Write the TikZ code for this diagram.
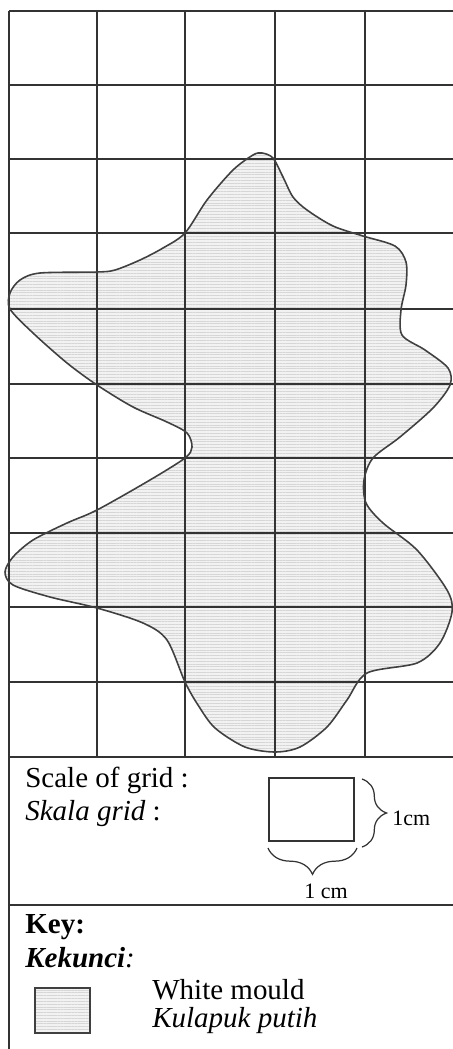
\documentclass[tikz,border=0pt]{standalone}
\usepackage{fontspec}
\setmainfont{Liberation Serif}
\usetikzlibrary{decorations.pathreplacing,patterns.meta}
\begin{document}
\begin{tikzpicture}[x=0.02cm,y=-0.02cm,
  gridline/.style={draw=black!80, line width=0.75pt},
  blobline/.style={draw=black!75, line width=0.9pt},
  mould/.style={fill=black!5},
  mouldtex/.style={pattern={Lines[angle=0, distance=1.6pt, line width=0.35pt]}, pattern color=black!16},
  lbl/.style={anchor=base west, inner sep=0pt, font=\fontsize{16.5}{19}\selectfont},
  smalllbl/.style={inner sep=0pt, font=\fontsize{12.5}{14}\selectfont},
  bracestyle/.style={draw=black!80, line width=0.7pt, decorate}
]
\useasboundingbox (0,0) rectangle (453,1049);
\fill[white] (0,0) rectangle (453,1049);
\def\blobpts{(253,155) (262,153) (273,158) (283,177) (293,197) (307,210) (333,226) (363,236) (395,246) (406,262) (406,285) (401,310) (402,335) (425,350) (448,368) (450,385) (433,408) (400,437) (373,458) (364,480) (366,503) (383,523) (417,550) (447,590) (452,612) (440,643) (417,663) (367,673) (347,700) (327,727) (300,747) (275,752) (245,747) (215,728) (198,705) (185,682) (167,640) (143,623) (97,608) (50,597) (13,585) (5,572) (13,557) (33,540) (67,523) (97,510) (150,480) (185,458) (192,447) (187,433) (167,422) (133,407) (97,385) (67,363) (33,333) (10,309) (10,293) (20,280) (40,273) (97,272) (115,270) (140,260) (163,248) (185,233) (207,200) (233,170)}
% mould fill
\path[mould] plot[smooth cycle] coordinates {\blobpts};
\path[mouldtex] plot[smooth cycle] coordinates {\blobpts};
% grid
\foreach \x in {9,97,185,275,365} \draw[gridline] (\x,11) -- (\x,757);
\foreach \y in {11,85,159,233,309,384,458,533,607,682,757} \draw[gridline] (9,\y) -- (453,\y);
% mould outline
\draw[blobline] plot[smooth cycle] coordinates {\blobpts};
% legend frame
\draw[gridline] (9,757) -- (9,1049);
\draw[gridline] (9,905) -- (453,905);
% scale
\node[lbl] (scale) at (25,787) {Scale of grid :};
\node[lbl] (skala) at (25,820) {\textit{Skala grid} :};
\coordinate (sqA) at (269,778);
\coordinate (sqB) at (354,841);
\draw[black!80, line width=0.8pt] (sqA) rectangle (sqB);
\coordinate (brRa) at (362,779);
\coordinate (brRb) at (362,847);
\draw[bracestyle, decoration={brace, amplitude=14pt}] (brRa) -- (brRb);
\node[smalllbl, anchor=base west] (cmR) at (392,825) {1cm};
\coordinate (brBa) at (357,848);
\coordinate (brBb) at (268,848);
\draw[bracestyle, decoration={brace, amplitude=15pt}] (brBa) -- (brBb);
\node[smalllbl, anchor=base] (cmB) at (326,898) {1 cm};
% key
\node[lbl, font=\fontsize{16.5}{19}\selectfont\bfseries] (key) at (25,933) {Key:};
\node[lbl, font=\fontsize{16.5}{19}\selectfont\bfseries\itshape] (kekunci) at (25,967) {Kekunci\textmd{:}};
\coordinate (kbA) at (35,988);
\coordinate (kbB) at (90,1033);
\path[mould] (kbA) rectangle (kbB);
\path[mouldtex] (kbA) rectangle (kbB);
\draw[black!75, line width=0.9pt] (kbA) rectangle (kbB);
\node[lbl] (white) at (152,999) {White mould};
\node[lbl] (kulapuk) at (152,1027) {\textit{Kulapuk putih}};
\end{tikzpicture}
\end{document}
